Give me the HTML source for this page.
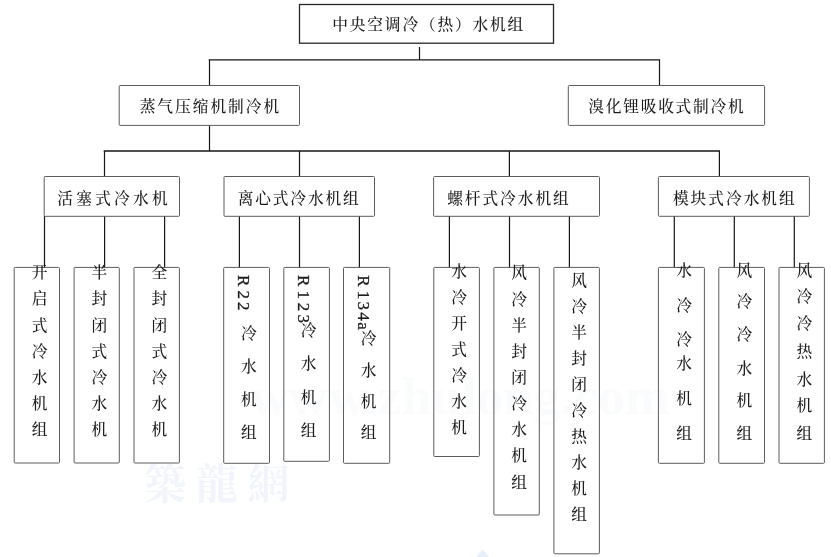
<!DOCTYPE html>
<html lang="zh-CN"><head><meta charset="utf-8"><title>中央空调冷（热）水机组</title>
<style>
html,body{margin:0;padding:0;background:#fff;}
body{width:831px;height:557px;overflow:hidden;}
svg{display:block;will-change:transform;}
text{font-family:"Liberation Serif","Noto Serif CJK SC",serif;font-size:15.7px;fill:#1c1c1c;font-weight:500;}
.wm{fill:#f1f5fb;font-weight:700;}
.wm2{fill:#fafbfc;font-weight:700;font-family:"Liberation Serif",serif;}
.ln{stroke:#161616;stroke-width:1.3;fill:none;}
.v{stroke-width:1.2;}
.bx{stroke:#5c5c5c;stroke-width:1;fill:none;}
.top{stroke:#262626;stroke-width:1.3;fill:none;}
.lat{font-family:"Liberation Serif",serif;font-size:17px;stroke:#1c1c1c;stroke-width:0.3px;}
</style></head><body>
<svg width="831" height="557" viewBox="0 0 831 557">
<text class="wm" x="144 196 247.5" y="499" style="font-size:42px">築龍網</text>
<text class="wm2" x="250" y="414" style="font-size:52px" textLength="420" lengthAdjust="spacingAndGlyphs">www.zhulong.com</text>
<path d="M476 557 L482.6 549.5 L489 557 Z" fill="#e7eef8"/>
<line class="ln v" x1="419.5" y1="47" x2="419.5" y2="60"/>
<line class="ln" x1="208.7" y1="59.9" x2="660.1" y2="59.9"/>
<line class="ln v" x1="209.5" y1="59.9" x2="209.5" y2="85.5"/>
<line class="ln v" x1="659.5" y1="59.9" x2="659.5" y2="85.5"/>
<line class="ln v" x1="209.5" y1="125.4" x2="209.5" y2="151"/>
<line class="ln" x1="103.7" y1="151" x2="720" y2="151"/>
<line class="ln v" x1="104.5" y1="151" x2="104.5" y2="176.5"/>
<line class="ln v" x1="299.5" y1="151" x2="299.5" y2="176.5"/>
<line class="ln v" x1="509.4" y1="151" x2="509.4" y2="176.5"/>
<line class="ln v" x1="719.4" y1="151" x2="719.4" y2="176.5"/>
<line class="ln v" x1="44.5" y1="216" x2="44.5" y2="267.8"/>
<line class="ln v" x1="104.6" y1="216" x2="104.6" y2="267.8"/>
<line class="ln v" x1="164.6" y1="216" x2="164.6" y2="267.8"/>
<line class="ln v" x1="239.4" y1="216" x2="239.4" y2="267.8"/>
<line class="ln v" x1="299.5" y1="216" x2="299.5" y2="267.8"/>
<line class="ln v" x1="359.4" y1="216" x2="359.4" y2="267.8"/>
<line class="ln v" x1="449.4" y1="216" x2="449.4" y2="267.8"/>
<line class="ln v" x1="509.5" y1="216" x2="509.5" y2="267.8"/>
<line class="ln v" x1="569.4" y1="216" x2="569.4" y2="267.8"/>
<line class="ln v" x1="674.3" y1="216" x2="674.3" y2="267.8"/>
<line class="ln v" x1="734.3" y1="216" x2="734.3" y2="267.8"/>
<line class="ln v" x1="794.3" y1="216" x2="794.3" y2="267.8"/>
<rect class="top" x="299.5" y="4.5" width="254.0" height="38.7" rx="0"/>
<rect class="bx" x="119.2" y="85.5" width="180.3" height="39.9" rx="0.9"/>
<rect class="bx" x="568.3" y="85.5" width="196.3" height="39.9" rx="0.9"/>
<rect class="bx" x="44.2" y="176.5" width="135.3" height="39.8" rx="0.9"/>
<rect class="bx" x="224.0" y="176.5" width="150.5" height="39.8" rx="0.9"/>
<rect class="bx" x="433.6" y="176.5" width="165.9" height="39.8" rx="0.9"/>
<rect class="bx" x="658.4" y="176.5" width="151.0" height="39.8" rx="0.9"/>
<rect class="bx" x="14.2" y="267.4" width="45.3" height="195.6" rx="0.9"/>
<rect class="bx" x="74.1" y="267.4" width="45.2" height="195.6" rx="0.9"/>
<rect class="bx" x="134.0" y="267.4" width="45.4" height="195.6" rx="0.9"/>
<rect class="bx" x="223.7" y="267.4" width="45.8" height="195.9" rx="0.9"/>
<rect class="bx" x="283.8" y="267.4" width="45.6" height="193.9" rx="0.9"/>
<rect class="bx" x="343.5" y="267.4" width="46.2" height="195.9" rx="0.9"/>
<rect class="bx" x="433.8" y="267.4" width="45.6" height="189.1" rx="0.9"/>
<rect class="bx" x="493.9" y="267.4" width="45.4" height="247.6" rx="0.9"/>
<rect class="bx" x="553.9" y="267.4" width="45.5" height="286.4" rx="0.9"/>
<rect class="bx" x="658.4" y="267.4" width="46.0" height="195.9" rx="0.9"/>
<rect class="bx" x="718.8" y="267.4" width="45.7" height="195.9" rx="0.9"/>
<rect class="bx" x="779.0" y="267.4" width="45.4" height="195.9" rx="0.9"/>
<text x="332.29" y="29.90" textLength="190.91" lengthAdjust="spacing">中央空调冷（热）水机组</text>
<text x="139.69" y="112.40" textLength="139.41" lengthAdjust="spacing">蒸气压缩机制冷机</text>
<text x="588.29" y="112.40" textLength="155.41" lengthAdjust="spacing">溴化锂吸收式制冷机</text>
<text x="57.29" y="203.90" textLength="110.41" lengthAdjust="spacing">活塞式冷水机</text>
<text x="237.69" y="203.90" textLength="121.01" lengthAdjust="spacing">离心式冷水机组</text>
<text x="447.19" y="203.90" textLength="121.51" lengthAdjust="spacing">螺杆式冷水机组</text>
<text x="672.89" y="203.90" textLength="121.81" lengthAdjust="spacing">模块式冷水机组</text>
<text x="39.50" y="278.20" text-anchor="middle">开</text>
<text x="39.50" y="304.35" text-anchor="middle">启</text>
<text x="39.50" y="330.50" text-anchor="middle">式</text>
<text x="39.50" y="356.65" text-anchor="middle">冷</text>
<text x="39.50" y="382.80" text-anchor="middle">水</text>
<text x="39.50" y="408.95" text-anchor="middle">机</text>
<text x="39.50" y="435.10" text-anchor="middle">组</text>
<text x="99.40" y="278.20" text-anchor="middle">半</text>
<text x="99.40" y="304.35" text-anchor="middle">封</text>
<text x="99.40" y="330.50" text-anchor="middle">闭</text>
<text x="99.40" y="356.65" text-anchor="middle">式</text>
<text x="99.40" y="382.80" text-anchor="middle">冷</text>
<text x="99.40" y="408.95" text-anchor="middle">水</text>
<text x="99.40" y="435.10" text-anchor="middle">机</text>
<text x="159.40" y="278.20" text-anchor="middle">全</text>
<text x="159.40" y="304.35" text-anchor="middle">封</text>
<text x="159.40" y="330.50" text-anchor="middle">闭</text>
<text x="159.40" y="356.65" text-anchor="middle">式</text>
<text x="159.40" y="382.80" text-anchor="middle">冷</text>
<text x="159.40" y="408.95" text-anchor="middle">水</text>
<text x="159.40" y="435.10" text-anchor="middle">机</text>
<text x="248.80" y="338.80" text-anchor="middle">冷</text>
<text x="248.80" y="371.80" text-anchor="middle">水</text>
<text x="248.80" y="404.70" text-anchor="middle">机</text>
<text x="248.80" y="437.90" text-anchor="middle">组</text>
<text x="308.60" y="335.90" text-anchor="middle">冷</text>
<text x="308.60" y="369.20" text-anchor="middle">水</text>
<text x="308.60" y="402.60" text-anchor="middle">机</text>
<text x="308.60" y="436.40" text-anchor="middle">组</text>
<text x="368.60" y="344.40" text-anchor="middle">冷</text>
<text x="368.60" y="376.10" text-anchor="middle">水</text>
<text x="368.60" y="406.70" text-anchor="middle">机</text>
<text x="368.60" y="437.90" text-anchor="middle">组</text>
<text x="459.20" y="276.60" text-anchor="middle">水</text>
<text x="459.20" y="302.60" text-anchor="middle">冷</text>
<text x="459.20" y="328.60" text-anchor="middle">开</text>
<text x="459.20" y="354.60" text-anchor="middle">式</text>
<text x="459.20" y="380.60" text-anchor="middle">冷</text>
<text x="459.20" y="406.60" text-anchor="middle">水</text>
<text x="459.20" y="432.60" text-anchor="middle">机</text>
<text x="519.20" y="278.40" text-anchor="middle">风</text>
<text x="519.20" y="304.55" text-anchor="middle">冷</text>
<text x="519.20" y="330.70" text-anchor="middle">半</text>
<text x="519.20" y="356.85" text-anchor="middle">封</text>
<text x="519.20" y="383.00" text-anchor="middle">闭</text>
<text x="519.20" y="409.15" text-anchor="middle">冷</text>
<text x="519.20" y="435.30" text-anchor="middle">水</text>
<text x="519.20" y="461.45" text-anchor="middle">机</text>
<text x="519.20" y="487.60" text-anchor="middle">组</text>
<text x="579.20" y="285.90" text-anchor="middle">风</text>
<text x="579.20" y="311.90" text-anchor="middle">冷</text>
<text x="579.20" y="337.90" text-anchor="middle">半</text>
<text x="579.20" y="363.90" text-anchor="middle">封</text>
<text x="579.20" y="389.90" text-anchor="middle">闭</text>
<text x="579.20" y="415.90" text-anchor="middle">冷</text>
<text x="579.20" y="441.90" text-anchor="middle">热</text>
<text x="579.20" y="467.90" text-anchor="middle">水</text>
<text x="579.20" y="493.90" text-anchor="middle">机</text>
<text x="579.20" y="519.90" text-anchor="middle">组</text>
<text x="684.00" y="275.80" text-anchor="middle">水</text>
<text x="684.00" y="311.20" text-anchor="middle">冷</text>
<text x="684.00" y="345.40" text-anchor="middle">冷</text>
<text x="684.00" y="369.40" text-anchor="middle">水</text>
<text x="684.00" y="403.70" text-anchor="middle">机</text>
<text x="684.00" y="438.60" text-anchor="middle">组</text>
<text x="744.30" y="276.40" text-anchor="middle">风</text>
<text x="744.30" y="306.90" text-anchor="middle">冷</text>
<text x="744.30" y="340.20" text-anchor="middle">冷</text>
<text x="744.30" y="373.60" text-anchor="middle">水</text>
<text x="744.30" y="406.20" text-anchor="middle">机</text>
<text x="744.30" y="438.60" text-anchor="middle">组</text>
<text x="804.30" y="275.80" text-anchor="middle">风</text>
<text x="804.30" y="301.80" text-anchor="middle">冷</text>
<text x="804.30" y="328.80" text-anchor="middle">冷</text>
<text x="804.30" y="356.60" text-anchor="middle">热</text>
<text x="804.30" y="384.90" text-anchor="middle">水</text>
<text x="804.30" y="411.40" text-anchor="middle">机</text>
<text x="804.30" y="438.60" text-anchor="middle">组</text>
<text class="lat" transform="translate(238.40 274.90) rotate(90)" x="0.00 15.60 27.20" y="0">R22</text>
<text class="lat" transform="translate(298.30 274.90) rotate(90)" x="0.00 15.60 27.90 39.70" y="0">R123</text>
<text class="lat" transform="translate(357.80 275.30) rotate(90)" x="0.00 15.40 26.10 36.90 47.00" y="0">R134a</text>
</svg>
</body></html>
